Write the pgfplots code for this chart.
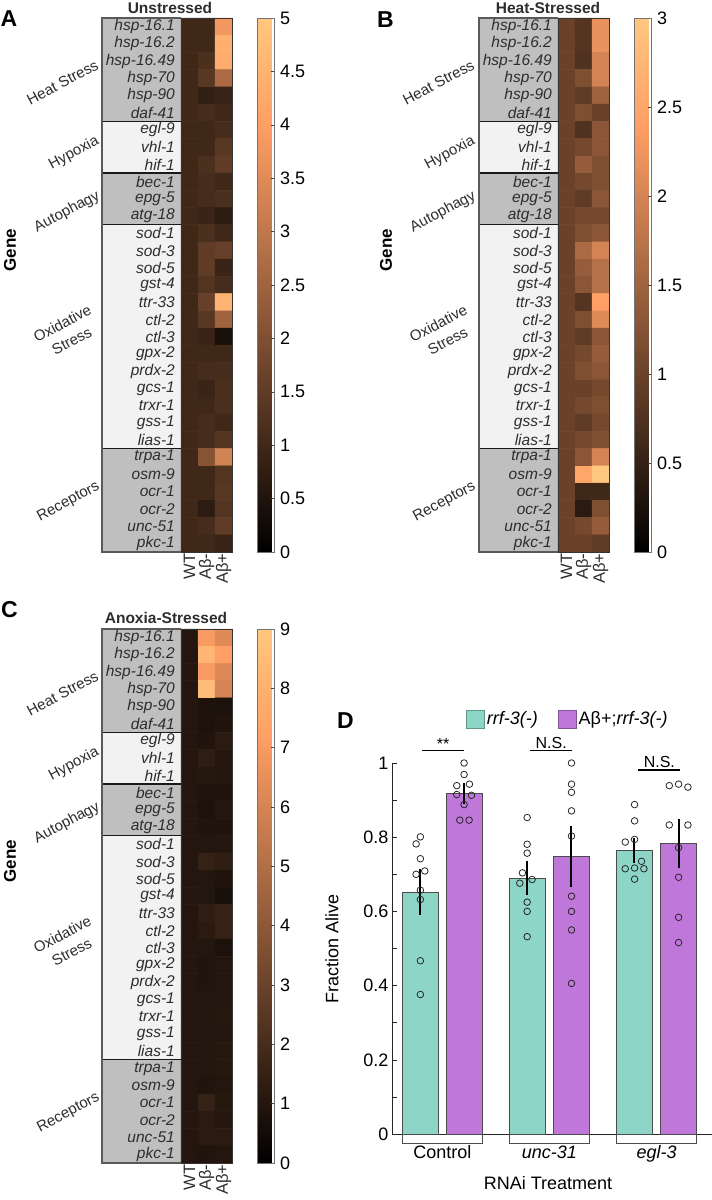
\documentclass[border=0pt]{standalone}
\usepackage{pgfplots}
\pgfplotsset{compat=1.18}
\usepackage{pgfplotstable}
\usepackage{fontspec}
\setmainfont{Liberation Sans}

\pgfkeys{/pgf/number format/assume math mode=true}

\definecolor{boxdark}{RGB}{191,191,191}
\definecolor{boxlight}{RGB}{242,242,242}
\definecolor{rrfteal}{RGB}{141,214,199}
\definecolor{abpurple}{RGB}{191,119,217}
\definecolor{labelgray}{RGB}{45,45,45}

\newcommand{\fsgene}{\fontsize{15.5}{16}\selectfont}
\newcommand{\fscond}{\fontsize{16.5}{17}\selectfont}
\newcommand{\fsgroup}{\fontsize{15}{20}\selectfont}
\newcommand{\fstitle}{\fontsize{15.5}{17}\selectfont\bfseries}
\newcommand{\fsgeneaxis}{\fontsize{17}{19}\selectfont\bfseries}
\newcommand{\fsletter}{\fontsize{23}{24}\selectfont\bfseries}
\newcommand{\fsbar}{\fontsize{18}{20}\selectfont}
\newcommand{\fsns}{\fontsize{16}{18}\selectfont}

% fold change relative to WT: column x (0 = WT, 1 = Abeta-, 2 = Abeta+), gene row y
\pgfplotstableread[row sep=\\]{
x y c\\
0 0 1\\ 1 0 1.0\\ 2 0 3.8\\
0 1 1\\ 1 1 1.0\\ 2 1 4.4\\
0 2 1\\ 1 2 1.2\\ 2 2 4.3\\
0 3 1\\ 1 3 1.4\\ 2 3 2.7\\
0 4 1\\ 1 4 0.8\\ 2 4 0.9\\
0 5 1\\ 1 5 1.1\\ 2 5 1.0\\
0 6 1\\ 1 6 1.0\\ 2 6 1.1\\
0 7 1\\ 1 7 1.0\\ 2 7 1.4\\
0 8 1\\ 1 8 1.2\\ 2 8 1.5\\
0 9 1\\ 1 9 1.1\\ 2 9 1.0\\
0 10 1\\ 1 10 1.1\\ 2 10 1.2\\
0 11 1\\ 1 11 0.9\\ 2 11 0.7\\
0 12 1\\ 1 12 1.2\\ 2 12 1.0\\
0 13 1\\ 1 13 1.5\\ 2 13 1.6\\
0 14 1\\ 1 14 1.5\\ 2 14 0.9\\
0 15 1\\ 1 15 1.3\\ 2 15 1.1\\
0 16 1\\ 1 16 1.6\\ 2 16 4.5\\
0 17 1\\ 1 17 1.4\\ 2 17 2.5\\
0 18 1\\ 1 18 0.9\\ 2 18 0.4\\
0 19 1\\ 1 19 1.0\\ 2 19 1.0\\
0 20 1\\ 1 20 1.1\\ 2 20 1.1\\
0 21 1\\ 1 21 0.9\\ 2 21 1.2\\
0 22 1\\ 1 22 1.0\\ 2 22 1.2\\
0 23 1\\ 1 23 1.1\\ 2 23 1.0\\
0 24 1\\ 1 24 1.1\\ 2 24 1.3\\
0 25 1\\ 1 25 2.1\\ 2 25 3.3\\
0 26 1\\ 1 26 1.0\\ 2 26 1.3\\
0 27 1\\ 1 27 1.0\\ 2 27 1.4\\
0 28 1\\ 1 28 0.7\\ 2 28 1.3\\
0 29 1\\ 1 29 1.1\\ 2 29 1.5\\
0 30 1\\ 1 30 1.0\\ 2 30 0.9\\
}\unstressed

\pgfplotstableread[row sep=\\]{
x y c\\
0 0 1\\ 1 0 0.8\\ 2 0 2.2\\
0 1 1\\ 1 1 0.8\\ 2 1 2.2\\
0 2 1\\ 1 2 0.75\\ 2 2 2.0\\
0 3 1\\ 1 3 1.2\\ 2 3 2.0\\
0 4 1\\ 1 4 0.9\\ 2 4 1.5\\
0 5 1\\ 1 5 1.2\\ 2 5 1.0\\
0 6 1\\ 1 6 0.75\\ 2 6 1.3\\
0 7 1\\ 1 7 1.1\\ 2 7 1.3\\
0 8 1\\ 1 8 1.4\\ 2 8 1.2\\
0 9 1\\ 1 9 1.1\\ 2 9 1.2\\
0 10 1\\ 1 10 0.9\\ 2 10 1.3\\
0 11 1\\ 1 11 1.1\\ 2 11 1.1\\
0 12 1\\ 1 12 1.2\\ 2 12 1.3\\
0 13 1\\ 1 13 1.6\\ 2 13 2.0\\
0 14 1\\ 1 14 1.4\\ 2 14 1.7\\
0 15 1\\ 1 15 1.3\\ 2 15 1.7\\
0 16 1\\ 1 16 0.8\\ 2 16 2.4\\
0 17 1\\ 1 17 1.2\\ 2 17 2.1\\
0 18 1\\ 1 18 0.9\\ 2 18 1.3\\
0 19 1\\ 1 19 1.1\\ 2 19 1.4\\
0 20 1\\ 1 20 1.2\\ 2 20 1.3\\
0 21 1\\ 1 21 1.0\\ 2 21 1.1\\
0 22 1\\ 1 22 1.1\\ 2 22 1.2\\
0 23 1\\ 1 23 0.9\\ 2 23 1.1\\
0 24 1\\ 1 24 1.1\\ 2 24 1.2\\
0 25 1\\ 1 25 1.3\\ 2 25 2.0\\
0 26 1\\ 1 26 2.5\\ 2 26 3.0\\
0 27 1\\ 1 27 0.6\\ 2 27 0.6\\
0 28 1\\ 1 28 0.4\\ 2 28 1.2\\
0 29 1\\ 1 29 1.1\\ 2 29 1.4\\
0 30 1\\ 1 30 1.0\\ 2 30 0.9\\
}\heatstressed

\pgfplotstableread[row sep=\\]{
x y c\\
0 0 1\\ 1 0 7.0\\ 2 0 6.3\\
0 1 1\\ 1 1 8.2\\ 2 1 7.2\\
0 2 1\\ 1 2 7.0\\ 2 2 6.2\\
0 3 1\\ 1 3 8.5\\ 2 3 6.0\\
0 4 1\\ 1 4 0.8\\ 2 4 0.8\\
0 5 1\\ 1 5 0.8\\ 2 5 0.9\\
0 6 1\\ 1 6 0.9\\ 2 6 1.2\\
0 7 1\\ 1 7 1.3\\ 2 7 1.0\\
0 8 1\\ 1 8 1.1\\ 2 8 1.0\\
0 9 1\\ 1 9 0.9\\ 2 9 0.9\\
0 10 1\\ 1 10 0.8\\ 2 10 1.0\\
0 11 1\\ 1 11 0.9\\ 2 11 0.9\\
0 12 1\\ 1 12 1.0\\ 2 12 1.0\\
0 13 1\\ 1 13 1.5\\ 2 13 1.3\\
0 14 1\\ 1 14 1.0\\ 2 14 0.9\\
0 15 1\\ 1 15 1.0\\ 2 15 0.7\\
0 16 1\\ 1 16 1.3\\ 2 16 1.5\\
0 17 1\\ 1 17 1.2\\ 2 17 1.5\\
0 18 1\\ 1 18 1.0\\ 2 18 0.8\\
0 19 1\\ 1 19 0.9\\ 2 19 1.0\\
0 20 1\\ 1 20 0.9\\ 2 20 1.0\\
0 21 1\\ 1 21 1.0\\ 2 21 1.0\\
0 22 1\\ 1 22 1.0\\ 2 22 1.1\\
0 23 1\\ 1 23 1.0\\ 2 23 1.0\\
0 24 1\\ 1 24 1.0\\ 2 24 1.1\\
0 25 1\\ 1 25 1.0\\ 2 25 1.1\\
0 26 1\\ 1 26 0.9\\ 2 26 1.0\\
0 27 1\\ 1 27 1.5\\ 2 27 1.1\\
0 28 1\\ 1 28 1.2\\ 2 28 1.0\\
0 29 1\\ 1 29 1.2\\ 2 29 1.2\\
0 30 1\\ 1 30 0.9\\ 2 30 1.0\\
}\anoxiastressed

\pgfplotsset{
  colormap={copper}{rgb255(0cm)=(0,0,0) rgb255(4cm)=(255,159,101) rgb255(5cm)=(255,199,127)},
  heatmap/.style={
    scale only axis, width=51pt, height=534pt,
    anchor=north west,
    xmin=-0.5, xmax=2.5, ymin=-0.5, ymax=30.5, y dir=reverse,
    clip=false,
    xtick={0,1,2}, xticklabels={WT,Aβ-,Aβ+},
    xticklabel style={rotate=90, anchor=east, font=\fscond, inner sep=1.5pt, text=labelgray},
    ytick={0,...,30},
    yticklabels={hsp-16.1,hsp-16.2,hsp-16.49,hsp-70,hsp-90,daf-41,egl-9,vhl-1,hif-1,bec-1,epg-5,atg-18,sod-1,sod-3,sod-5,gst-4,ttr-33,ctl-2,ctl-3,gpx-2,prdx-2,gcs-1,trxr-1,gss-1,lias-1,trpa-1,osm-9,ocr-1,ocr-2,unc-51,pkc-1},
    yticklabel style={font=\fsgene\itshape, anchor=east, inner sep=0pt, xshift=-6pt, text=labelgray},
    major tick length=0pt,
    axis line style={draw=black!80, line width=0.6pt},
    colorbar,
    colorbar style={
      at={(parent axis.north east)}, anchor=north west, xshift=17pt,
      width=17pt,
      ytick pos=right, tick align=inside,
      major tick length=4pt,
      tick style={draw=black!75, line width=0.5pt},
      axis line style={draw=black!55, line width=0.5pt},
      yticklabel style={font=\fsbar, xshift=2pt},
    },
  },
}

% shaded gene-group panel to the left of each heat map
\newcommand{\genebox}{%
  \fill[boxdark]  (axis cs:-5.147,-0.5) rectangle (axis cs:-0.5,5.5);
  \fill[boxlight] (axis cs:-5.147,5.5)  rectangle (axis cs:-0.5,8.5);
  \fill[boxdark]  (axis cs:-5.147,8.5)  rectangle (axis cs:-0.5,11.5);
  \fill[boxlight] (axis cs:-5.147,11.5) rectangle (axis cs:-0.5,24.5);
  \fill[boxdark]  (axis cs:-5.147,24.5) rectangle (axis cs:-0.5,30.5);
  \draw[black!90, line width=1.2pt] (axis cs:-5.147,5.5) -- (axis cs:-0.5,5.5);
  \draw[black!90, line width=1.2pt] (axis cs:-5.147,8.5) -- (axis cs:-0.5,8.5);
  \draw[black!90, line width=1.2pt] (axis cs:-5.147,11.5) -- (axis cs:-0.5,11.5);
  \draw[black!90, line width=1.2pt] (axis cs:-5.147,24.5) -- (axis cs:-0.5,24.5);
  \draw[black!65, line width=1.3pt] (axis cs:-0.5,-0.5) -- (axis cs:-5.147,-0.5) -- (axis cs:-5.147,30.5) -- (axis cs:-0.5,30.5);
}

% rotated gene-group names, shifted per panel
\newcommand{\grouplabels}[2]{%
  \begin{scope}[shift={(#1,#2)}]
    \begin{scope}[every node/.style={font=\fsgroup, rotate=28, inner sep=0pt, text=labelgray}]
      \node at (62.5pt,-82.5pt) {Heat Stress};
      \node at (74pt,-153pt) {Hypoxia};
      \node at (67pt,-212pt) {Autophagy};
      \node[align=center] at (67pt,-332pt) {Oxidative\\Stress};
      \node at (68.5pt,-502pt) {Receptors};
    \end{scope}
  \end{scope}}

\begin{document}
\begin{tikzpicture}
\useasboundingbox (0pt,0pt) rectangle (712pt,-1200pt);

% ---- A: unstressed
\begin{axis}[heatmap, at={(181pt,-18pt)}, point meta min=0, point meta max=5,
  colorbar style={ytick={0,0.5,1,1.5,2,2.5,3,3.5,4,4.5,5}}]
  \genebox
  \addplot[matrix plot, mesh/cols=3, point meta=explicit, faceted color=black!80, line width=0.5pt]
    table[meta=c] {\unstressed};
\end{axis}

% ---- B: heat-stressed
\begin{axis}[heatmap, at={(558pt,-18pt)}, point meta min=0, point meta max=3,
  colorbar style={ytick={0,0.5,1,1.5,2,2.5,3}}]
  \genebox
  \addplot[matrix plot, mesh/cols=3, point meta=explicit, faceted color=black!80, line width=0.5pt]
    table[meta=c] {\heatstressed};
\end{axis}

% ---- C: anoxia-stressed
\begin{axis}[heatmap, at={(181pt,-629pt)}, point meta min=0, point meta max=9,
  colorbar style={ytick={0,1,2,3,4,5,6,7,8,9}}]
  \genebox
  \addplot[matrix plot, mesh/cols=3, point meta=explicit, faceted color=black!80, line width=0.5pt]
    table[meta=c] {\anoxiastressed};
\end{axis}

\grouplabels{0pt}{0pt}
\grouplabels{376pt}{0pt}
\grouplabels{0pt}{-611pt}

\node[font=\fstitle, text=labelgray] at (170pt,-7.5pt) {Unstressed};
\node[font=\fstitle, text=labelgray] at (548pt,-7.5pt) {Heat-Stressed};
\node[font=\fstitle, text=labelgray] at (166pt,-617.5pt) {Anoxia-Stressed};

\node[font=\fsgeneaxis, rotate=90] at (10pt,-250pt) {Gene};
\node[font=\fsgeneaxis, rotate=90] at (386pt,-250pt) {Gene};
\node[font=\fsgeneaxis, rotate=90] at (10pt,-861pt) {Gene};

\node[font=\fsletter] at (9pt,-18.5pt) {A};
\node[font=\fsletter] at (385.5pt,-19.5pt) {B};
\node[font=\fsletter] at (9.5pt,-610pt) {C};
\node[font=\fsletter] at (345.5pt,-720.5pt) {D};

% ---- D: survival after RNAi
\begin{axis}[
  at={(392pt,-1134pt)}, anchor=south west,
  scale only axis, width=320pt, height=371pt,
  xmin=0.53, xmax=3.518, ymin=0, ymax=1,
  clip=false,
  axis x line*=bottom, axis y line*=left,
  axis line style={draw=black!85, line width=0.7pt},
  xtick={1,2,3}, xticklabels={Control,\textit{unc-31},\textit{egl-3}},
  xtick style={draw=none},
  xticklabel style={font=\fsbar, yshift=-8pt},
  ytick={0,0.2,0.4,0.6,0.8,1}, minor ytick={0.1,0.3,0.5,0.7,0.9},
  yticklabel style={font=\fsbar},
  tick align=inside, major tick length=4.5pt, minor tick length=4.5pt,
  ytick style={draw=black!85, line width=0.6pt},
  minor tick style={draw=black!85, line width=0.6pt},
  /pgf/number format/fixed,
  xlabel={RNAi Treatment}, ylabel={Fraction Alive},
  xlabel style={font=\fsbar, at={(axis description cs:0.4875,-0.132)}, anchor=center},
  ylabel style={font=\fsbar, at={(axis description cs:-0.1875,0.5)}, anchor=center},
  legend columns=2,
  legend cell align=left,
  legend style={at={(axis description cs:0.231,1.1186)}, anchor=west, draw=none, fill=none,
    font=\fsbar, inner sep=0pt, /tikz/every even column/.append style={column sep=18pt}},
]
  \addplot[ybar, bar width=0.333, bar shift=0pt, fill=rrfteal, draw=black!70, line width=0.6pt,
    legend image code/.code={\draw[fill=rrfteal, draw=rrfteal!70!black, line width=0.8pt] (0pt,-9pt) rectangle (18pt,9pt);},
    error bars/.cd, y dir=both, y explicit,
    error bar style={line width=2pt, draw=black},
    error mark options={mark size=4.5pt, line width=2pt, draw=black}]
    coordinates {(0.794,0.652) +- (0,0.049) (1.794,0.690) +- (0,0.034) (2.794,0.765) +- (0,0.022)};
  \addlegendentry{\textit{rrf-3(-)}}
  \addplot[ybar, bar width=0.333, bar shift=0pt, fill=abpurple, draw=black!70, line width=0.6pt,
    legend image code/.code={\draw[fill=abpurple, draw=abpurple!70!black, line width=0.8pt] (0pt,-9pt) rectangle (18pt,9pt);},
    error bars/.cd, y dir=both, y explicit,
    error bar style={line width=2pt, draw=black},
    error mark options={mark size=4.5pt, line width=2pt, draw=black}]
    coordinates {(1.206,0.918) +- (0,0.017) (2.206,0.748) +- (0,0.069) (3.206,0.783) +- (0,0.053)};
  \addlegendentry{Aβ+;\textit{rrf-3(-)}}

  % individual replicates
  \addplot[only marks, mark=o, mark size=3.3pt, mark options={draw=black!85, line width=0.8pt}, forget plot]
    coordinates {(0.795,0.801) (0.755,0.782) (0.795,0.742) (0.755,0.700) (0.836,0.709)
                 (0.795,0.657) (0.795,0.632) (0.795,0.467) (0.795,0.376)
                 (1.792,0.853) (1.792,0.781) (1.792,0.757) (1.748,0.704) (1.723,0.676)
                 (1.838,0.686) (1.792,0.625) (1.792,0.600) (1.792,0.532)
                 (2.795,0.888) (2.795,0.844) (2.795,0.794) (2.708,0.787) (2.860,0.735)
                 (2.708,0.715) (2.795,0.717) (2.882,0.715) (2.795,0.687)};
  \addplot[only marks, mark=o, mark size=3.3pt, mark options={draw=black!85, line width=0.8pt}, forget plot]
    coordinates {(1.203,1.000) (1.203,0.969) (1.135,0.939) (1.253,0.943) (1.135,0.915)
                 (1.272,0.913) (1.203,0.888) (1.163,0.846) (1.250,0.846)
                 (2.206,1.000) (2.206,0.943) (2.206,0.921) (2.206,0.871) (2.206,0.803)
                 (2.206,0.641) (2.206,0.600) (2.206,0.550) (2.206,0.406)
                 (3.119,0.939) (3.206,0.943) (3.293,0.935) (3.119,0.833) (3.293,0.833)
                 (3.206,0.772) (3.206,0.692) (3.206,0.584) (3.206,0.516)};

  % group brackets under the x axis
  \draw[black!70, line width=0.8pt] (axis cs:0.627,0) -- ++(0pt,-9pt) -| (axis cs:1.373,0);
  \draw[black!70, line width=0.8pt] (axis cs:1.627,0) -- ++(0pt,-9pt) -| (axis cs:2.373,0);
  \draw[black!70, line width=0.8pt] (axis cs:2.627,0) -- ++(0pt,-9pt) -| (axis cs:3.373,0);

  % significance
  \draw[line width=1.3pt] (axis cs:0.812,1.033) -- (axis cs:1.204,1.033);
  \node[font=\fsns] at (axis cs:1.008,1.050) {**};
  \draw[line width=1.3pt] (axis cs:1.821,1.033) -- (axis cs:2.213,1.033);
  \node[font=\fsns] at (axis cs:2.017,1.054) {N.S.};
  \draw[line width=1.3pt] (axis cs:2.830,0.981) -- (axis cs:3.222,0.981);
  \node[font=\fsns] at (axis cs:3.026,1.003) {N.S.};
\end{axis}
\end{tikzpicture}
\end{document}
